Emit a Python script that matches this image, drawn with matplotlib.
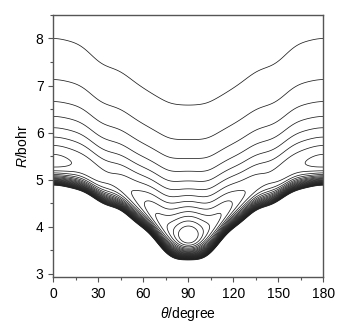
import numpy as np
import matplotlib
matplotlib.use("Agg")
import matplotlib.pyplot as plt
from matplotlib.ticker import MultipleLocator

plt.rcParams["font.family"] = ["Liberation Sans", "DejaVu Sans"]
plt.rcParams["mathtext.fontset"] = "custom"
plt.rcParams["mathtext.it"] = "Liberation Sans:italic"
plt.rcParams["mathtext.rm"] = "Liberation Sans"
plt.rcParams["contour.negative_linestyle"] = "solid"

# well parameters every 10 degrees (surface is mirrored about 90)
theta_nodes = [0, 10, 20, 30, 40, 50, 60, 70, 80, 90]
well_depth = [8.4, 8.1, 7.75, 7.45, 7.3, 7.85, 8.9, 10.2, 12.0, 14.1]
well_pos = [5.38, 5.36, 5.28, 5.10, 4.98, 4.78, 4.50, 4.18, 3.89, 3.80]
# R where the outermost contour crosses (sets the long range tail)
outer_r = [8.0, 7.95, 7.8, 7.52, 7.36, 7.18, 6.95, 6.76, 6.64, 6.6]

# contour levels, equally spaced (arbitrary energy unit)
levels = list(range(-13, 15))

x_ticks = [0, 30, 60, 90, 120, 150, 180]
y_ticks = [3, 4, 5, 6, 7, 8]


def angular(vals, th):
    # smooth cosine series through the node values
    k = np.arange(len(theta_nodes))
    basis = np.cos(2 * np.outer(np.radians(theta_nodes), k))
    coef = np.linalg.solve(basis, np.array(vals, dtype=float))
    return np.cos(2 * np.outer(np.radians(th), k)) @ coef


theta = np.linspace(0, 180, 361)
R = np.linspace(2.9, 8.5, 500)
TH, RR = np.meshgrid(theta, R)

De = angular(well_depth, theta)[None, :]
Rm = angular(well_pos, theta)[None, :]
C6 = angular(outer_r, theta)[None, :] ** 6
q = C6 / (De * Rm ** 6)
n = np.clip(6 * q / (q - 1), 8, 45)

x = RR / Rm
V = De / (n - 6) * (6 * x ** (-n) - n * x ** (-6))

fig = plt.figure(figsize=(3.61, 3.28), dpi=100)
ax = fig.add_axes([0.1477, 0.1546, 0.748, 0.7997])

ax.contour(TH, RR, V, levels=levels, colors="#1e1e1e", linewidths=0.55)

ax.set_xlim(0, 180)
ax.set_ylim(2.92, 8.5)
ax.set_xticks(x_ticks)
ax.set_yticks(y_ticks)
ax.xaxis.set_minor_locator(MultipleLocator(15))
ax.yaxis.set_minor_locator(MultipleLocator(0.5))
ax.tick_params(which="major", direction="out", length=3.5, width=0.8,
               color="#555555", labelsize=10, top=False, right=False)
ax.tick_params(which="minor", direction="out", length=2, width=0.8,
               color="#555555", top=False, right=False)
for s in ax.spines.values():
    s.set_color("#555555")
    s.set_linewidth(1.0)

ax.set_xlabel(r"$\mathit{\theta}$/degree", fontsize=10, labelpad=3)
ax.set_ylabel(r"$\mathit{R}$/bohr", fontsize=10, labelpad=4)

fig.savefig("out.png", dpi=100)
